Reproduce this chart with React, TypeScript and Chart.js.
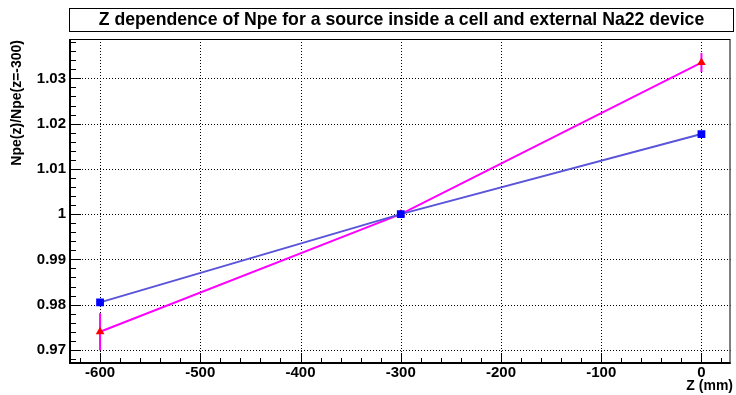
import React, { useEffect, useRef } from "react";
import { Chart, registerables } from "chart.js";

Chart.register(...registerables);

// ---- data ----
const zValues = [-600, -300, 0];
const ratioCell = [0.9805, 1.0, 1.0177];
const ratioNa22 = [0.974, 1.0, 1.0335];
const errNa22 = [0.0041, 0, 0.0021];

const xMajorTicks = [-600, -500, -400, -300, -200, -100, 0];
const yMajorTicks = [0.97, 0.98, 0.99, 1.0, 1.01, 1.02, 1.03];
const xRange = [-630, 29];
const yRange = [0.9671, 1.0387];

const titleText = "Z dependence of Npe for a source inside a cell and external Na22 device";
const xTitle = "Z (mm)";
const yTitle = "Npe(z)/Npe(z=-300)";

const FONT = "'Liberation Sans', Arial, Helvetica, sans-serif";

const rootPlugin = {
  id: "rootStyle",
  beforeDatasetsDraw(chart: any) {
    const { ctx, chartArea: a, scales } = chart;
    const xs = scales.x, ys = scales.y;
    ctx.save();
    // dotted grid
    ctx.strokeStyle = "#000";
    ctx.lineWidth = 1;
    ctx.setLineDash([1, 2]);
    for (const v of xMajorTicks) {
      const px = Math.round(xs.getPixelForValue(v)) + 0.5;
      ctx.beginPath();
      ctx.moveTo(px, a.top);
      ctx.lineTo(px, a.bottom);
      ctx.stroke();
    }
    for (const v of yMajorTicks) {
      const py = Math.round(ys.getPixelForValue(v)) + 0.5;
      ctx.beginPath();
      ctx.moveTo(a.left, py);
      ctx.lineTo(a.right, py);
      ctx.stroke();
    }
    ctx.setLineDash([]);
    // error bars for Na22 series
    ctx.strokeStyle = "#ff00ff";
    ctx.lineWidth = 2;
    zValues.forEach((z, i) => {
      const e = errNa22[i];
      if (!e) return;
      const px = xs.getPixelForValue(z);
      ctx.beginPath();
      ctx.moveTo(px, ys.getPixelForValue(ratioNa22[i] - e));
      ctx.lineTo(px, ys.getPixelForValue(ratioNa22[i] + e));
      ctx.stroke();
    });
    ctx.restore();
  },
  afterDraw(chart: any) {
    const { ctx, chartArea: a, scales } = chart;
    const xs = scales.x, ys = scales.y;
    ctx.save();
    ctx.strokeStyle = "#000";
    // frame
    ctx.lineWidth = 1;
    ctx.strokeRect(a.left + 0.5, a.top + 0.5, a.right - a.left - 1, a.bottom - a.top);
    ctx.lineWidth = 2;
    ctx.beginPath();
    ctx.moveTo(a.left, a.top);
    ctx.lineTo(a.left, a.bottom);
    ctx.lineTo(a.right, a.bottom);
    ctx.stroke();
    // ticks
    ctx.lineWidth = 1;
    for (let v = -620; v <= xRange[1]; v += 20) {
      const px = Math.round(xs.getPixelForValue(v)) + 0.5;
      const len = xMajorTicks.includes(v) ? 10 : 5;
      ctx.beginPath();
      ctx.moveTo(px, a.bottom);
      ctx.lineTo(px, a.bottom - len);
      ctx.stroke();
    }
    for (let k = 0; ; k++) {
      const v = 0.968 + k * 0.002;
      if (v > yRange[1]) break;
      const py = Math.round(ys.getPixelForValue(v)) + 0.5;
      const isMajor = yMajorTicks.some((m) => Math.abs(m - v) < 1e-6);
      const len = isMajor ? 11 : 6;
      ctx.beginPath();
      ctx.moveTo(a.left, py);
      ctx.lineTo(a.left + len, py);
      ctx.stroke();
    }
    // title box
    ctx.fillStyle = "#fff";
    ctx.fillRect(69.5, 8.5, 664, 23);
    ctx.strokeRect(69.5, 8.5, 664, 23);
    ctx.fillStyle = "#000";
    ctx.font = `bold 16px ${FONT}`;
    const w = ctx.measureText(titleText).width;
    const size = 16 * 606 / w;
    ctx.font = `bold ${size.toFixed(2)}px ${FONT}`;
    ctx.textAlign = "center";
    ctx.textBaseline = "middle";
    ctx.fillText(titleText, 401.5, 20.5);
    // axis titles
    ctx.font = `bold 14px ${FONT}`;
    ctx.textAlign = "right";
    ctx.textBaseline = "alphabetic";
    ctx.fillText(xTitle, 733, 390);
    ctx.save();
    ctx.translate(17, 40);
    ctx.rotate(-Math.PI / 2);
    ctx.textAlign = "right";
    ctx.textBaseline = "middle";
    ctx.fillText(yTitle, 0, 0);
    ctx.restore();
    ctx.restore();
  },
};

export default function App() {
  const ref = useRef<HTMLCanvasElement>(null);
  useEffect(() => {
    if (!ref.current) return;
    const tickFont = { family: FONT, size: 15, weight: "bold" as const };
    const chart = new Chart(ref.current, {
      type: "line",
      data: {
        datasets: [
          {
            label: "cell",
            data: zValues.map((z, i) => ({ x: z, y: ratioCell[i] })),
            borderColor: "rgb(89,84,217)",
            borderWidth: 2,
            pointStyle: "rect",
            pointRadius: 5.5,
            pointBackgroundColor: "#0000ff",
            pointBorderColor: "#0000ff",
            pointBorderWidth: 0,
            tension: 0,
          },
          {
            label: "Na22",
            data: zValues.map((z, i) => ({ x: z, y: ratioNa22[i] })),
            borderColor: "#ff00ff",
            borderWidth: 2,
            pointStyle: "triangle",
            pointRadius: 5,
            pointBackgroundColor: "#ff0000",
            pointBorderColor: "#ff0000",
            pointBorderWidth: 0,
            tension: 0,
          },
        ],
      },
      options: {
        animation: false,
        responsive: false,
        maintainAspectRatio: false,
        layout: { padding: { top: 39, right: 2, left: 0, bottom: 0 } },
        plugins: { legend: { display: false }, tooltip: { enabled: false }, title: { display: false } },
        scales: {
          x: {
            type: "linear",
            min: xRange[0],
            max: xRange[1],
            afterBuildTicks: (s: any) => {
              s.ticks = xMajorTicks.map((v) => ({ value: v }));
            },
            afterFit: (s: any) => {
              s.height = 32;
            },
            grid: { display: false, drawTicks: false, tickLength: 0 },
            border: { display: false },
            ticks: {
              font: tickFont,
              color: "#000",
              padding: 1,
              maxRotation: 0,
              autoSkip: false,
              callback: (v: any) => String(v),
            },
          },
          y: {
            type: "linear",
            min: yRange[0],
            max: yRange[1],
            afterBuildTicks: (s: any) => {
              s.ticks = yMajorTicks.map((v) => ({ value: v }));
            },
            afterFit: (s: any) => {
              s.width = 70;
            },
            grid: { display: false, drawTicks: false, tickLength: 0 },
            border: { display: false },
            ticks: {
              font: tickFont,
              color: "#000",
              padding: 4,
              autoSkip: false,
              callback: (v: any) => String(parseFloat(Number(v).toFixed(2))),
            },
          },
        },
      },
      plugins: [rootPlugin],
    });
    return () => chart.destroy();
  }, []);
  return (
    <div style={{ position: "absolute", left: 0, top: 0, width: 736, height: 395, background: "#fff" }}>
      <canvas ref={ref} width={736} height={395} style={{ width: 736, height: 395 }} />
    </div>
  );
}
